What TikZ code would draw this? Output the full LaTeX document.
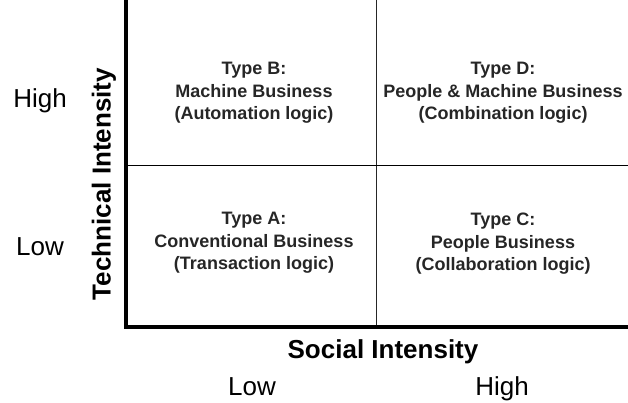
\documentclass[tikz,border=0pt]{standalone}
\usepackage{fontspec}
\setmainfont{Liberation Sans}
\begin{document}
\begin{tikzpicture}[x=1pt,y=-1pt,
    quad/.style={font=\bfseries\fontsize{18}{22.5}\selectfont, align=center, text=black!85},
    axislabel/.style={font=\bfseries\fontsize{26}{30}\selectfont},
    level/.style={font=\fontsize{26}{30}\selectfont, anchor=base}]
  \useasboundingbox (0,0) rectangle (628,402);
  % grid
  \coordinate (mtop) at (376.5,0);
  \coordinate (mbot) at (376.5,327);
  \coordinate (hl) at (125,165.5);
  \coordinate (hr) at (628,165.5);
  \coordinate (o) at (125.5,327);
  \coordinate (ytop) at (125.5,0);
  \coordinate (xend) at (628,327);
  \begin{scope}[-]
    \draw[line width=1.3pt, black!85] (mtop) -- (mbot);
    \draw[line width=1.3pt] (hl) -- (hr);
    \draw[line width=4pt] (ytop) -- (o) -- (xend);
  \end{scope}
  % quadrants
  \node[quad] (B) at (254,93) {Type B:\\Machine Business\\(Automation logic)};
  \node[quad] (D) at (503,93) {Type D:\\People \& Machine Business\\(Combination logic)};
  \node[quad] (A) at (254,243) {Type A:\\Conventional Business\\(Transaction logic)};
  \node[quad] (C) at (503,244) {Type C:\\People Business\\(Collaboration logic)};
  % axes
  \node[axislabel, rotate=90] (tech) at (104,184) {Technical Intensity};
  \node[axislabel] (social) at (383,352) {Social Intensity};
  \node[level] (yhigh) at (40,107) {High};
  \node[level] (ylow) at (40,255) {Low};
  \node[level] (xlow) at (252,395) {Low};
  \node[level] (xhigh) at (502,395) {High};
\end{tikzpicture}
\end{document}
